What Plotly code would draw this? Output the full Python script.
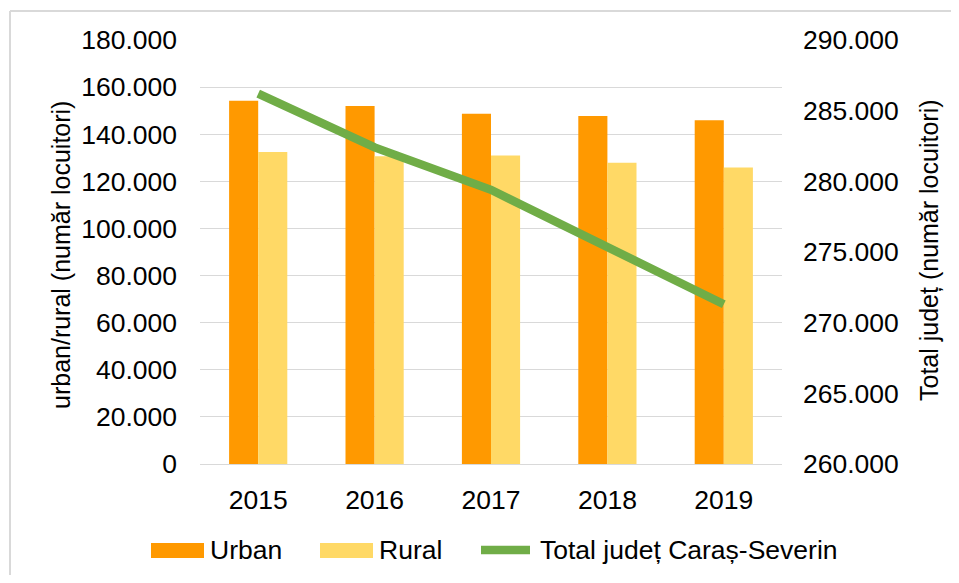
import plotly.graph_objects as go

years = ["2015", "2016", "2017", "2018", "2019"]
urban = [154200, 152000, 148700, 147700, 145900]
rural = [132400, 130700, 131000, 127900, 125900]
total = [286200, 282400, 279400, 275400, 271300]

left_ticks = list(range(0, 180001, 20000))
right_ticks = list(range(260000, 290001, 5000))

FONT = "Liberation Sans, Arial, sans-serif"
FS = 26.5
FS_T = 25
OFF = 8  # default body margin of the page
W, H = 959 - OFF, 583 - 2 * OFF
# plot area in page pixels: x 200..782, y 40..464
PL, PR, PT, PB = 200, 782, 40, 464
L, T = PL - OFF, PT - OFF
R = W - (PR - OFF)
B = H - (PB - OFF)
pw, ph = PR - PL, PB - PT

def px(x):
    return (x - PL) / pw

def py(y):
    return (PB - y) / ph

fig = go.Figure()
fig.add_trace(go.Bar(x=years, y=urban, name="Urban", marker=dict(color="#FF9900", line=dict(width=0)), showlegend=False))
fig.add_trace(go.Bar(x=years, y=rural, name="Rural", marker=dict(color="#FFD966", line=dict(width=0)), showlegend=False))
fig.add_trace(go.Scatter(x=years, y=total, name="Total județ Caraș-Severin", yaxis="y2", mode="lines",
                         line=dict(color="#70AD47", width=8.5), showlegend=False))

shapes = [
    dict(type="line", xref="paper", yref="paper", x0=px(10), x1=px(10), y0=py(590), y1=py(11),
         line=dict(color="#D9D9D9", width=2), layer="below"),
    dict(type="line", xref="paper", yref="paper", x0=px(10), x1=px(970), y0=py(11), y1=py(11),
         line=dict(color="#D9D9D9", width=2), layer="below"),
    dict(type="rect", xref="paper", yref="paper", x0=px(151), x1=px(204), y0=py(558), y1=py(543),
         line=dict(width=0), fillcolor="#FF9900"),
    dict(type="rect", xref="paper", yref="paper", x0=px(320), x1=px(373), y0=py(558), y1=py(543),
         line=dict(width=0), fillcolor="#FFD966"),
    dict(type="line", xref="paper", yref="paper", x0=px(481), x1=px(530), y0=py(550), y1=py(550),
         line=dict(color="#70AD47", width=8.5)),
]

annotations = [
    dict(text="Urban", xref="paper", yref="paper", x=px(208), y=py(550), xanchor="left", yanchor="middle",
         showarrow=False, font=dict(size=FS, color="black", family=FONT)),
    dict(text="Rural", xref="paper", yref="paper", x=px(377), y=py(550), xanchor="left", yanchor="middle",
         showarrow=False, font=dict(size=FS, color="black", family=FONT)),
    dict(text="Total județ Caraș-Severin", xref="paper", yref="paper", x=px(538), y=py(550), xanchor="left",
         yanchor="middle", showarrow=False, font=dict(size=FS, color="black", family=FONT)),
    dict(text="urban/rural (număr locuitori)", xref="paper", yref="paper", x=px(61), y=py(255),
         xanchor="center", yanchor="middle", textangle=-90, showarrow=False,
         font=dict(size=FS_T, color="black", family=FONT)),
    dict(text="Total județ (număr locuitori)", xref="paper", yref="paper", x=px(929), y=py(250),
         xanchor="center", yanchor="middle", textangle=-90, showarrow=False,
         font=dict(size=FS_T, color="black", family=FONT)),
]

fig.update_layout(
    width=W, height=H,
    margin=dict(l=L, r=R, t=T, b=B, pad=0),
    paper_bgcolor="white", plot_bgcolor="white",
    separators=",.",
    barmode="group", bargap=0.5, bargroupgap=0,
    font=dict(family=FONT, size=FS, color="black"),
    xaxis=dict(showgrid=False, showline=True, linecolor="#D9D9D9", linewidth=1,
               ticks="", ticklabelstandoff=12, tickfont=dict(size=FS, color="black")),
    yaxis=dict(range=[0, 180000], tickvals=left_ticks, tickformat=",d", showgrid=True,
               gridcolor="#D9D9D9", gridwidth=1, zeroline=False, showline=False, ticks="",
               ticklabelstandoff=22, tickfont=dict(size=FS, color="black")),
    yaxis2=dict(range=[260000, 290000], tickvals=right_ticks, tickformat=",d", overlaying="y",
                side="right", showgrid=False, zeroline=False, showline=False, ticks="",
                ticklabelstandoff=20, tickfont=dict(size=FS, color="black")),
    shapes=shapes, annotations=annotations, showlegend=False,
)

fig.write_html("out.html")
